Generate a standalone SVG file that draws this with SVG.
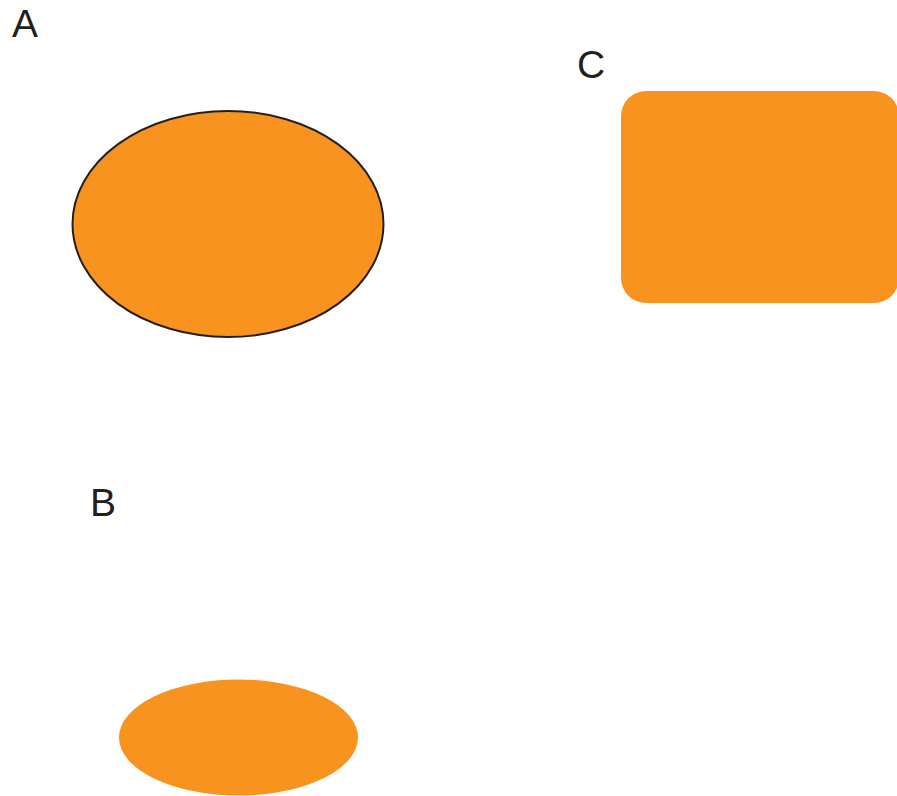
<svg xmlns="http://www.w3.org/2000/svg" width="897" height="796" viewBox="0 0 897 796">
<style>
.lbl{font-family:"Liberation Sans",Arial,sans-serif;font-size:39px;fill:#231f20}
.shape{fill:#f7931e}
</style>
<rect width="897" height="796" fill="#ffffff"/>
<g id="node-A">
<ellipse class="shape" cx="228" cy="224" rx="155.5" ry="113" stroke="#231f20" stroke-width="2"/>
<text class="lbl" x="12" y="37">A</text>
</g>
<g id="node-B">
<ellipse class="shape" cx="238.5" cy="737.5" rx="119.5" ry="58"/>
<text class="lbl" x="90" y="516">B</text>
</g>
<g id="node-C">
<rect class="shape" x="621" y="91" width="278" height="212" rx="25" ry="25"/>
<text class="lbl" x="577" y="78">C</text>
</g>
<g id="connectors"></g>
</svg>
